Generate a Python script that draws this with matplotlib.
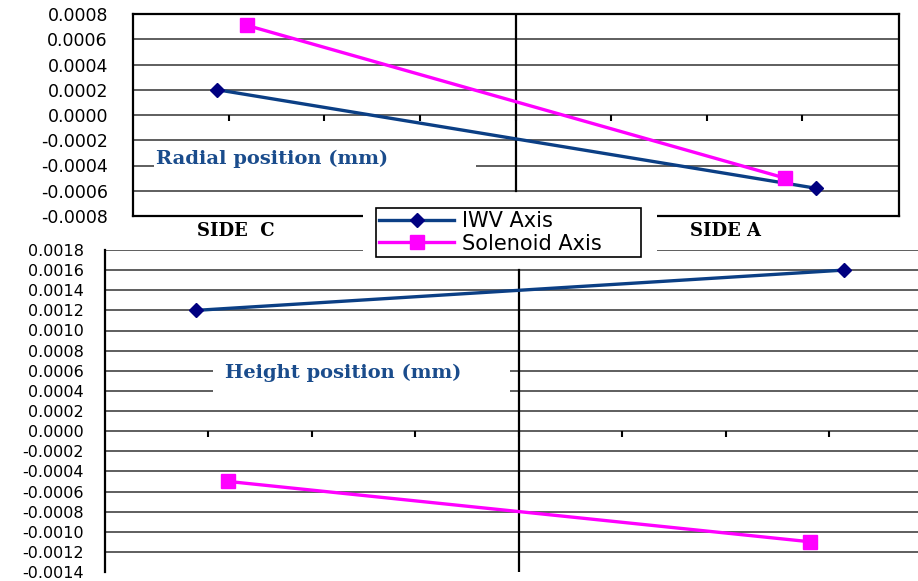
import numpy as np
import matplotlib
matplotlib.use("Agg")
import matplotlib.pyplot as plt
from matplotlib.patches import Rectangle

plt.rcParams['axes.unicode_minus'] = False
plt.rcParams['font.family'] = 'DejaVu Sans'

# dados
series = ['IWV Axis', 'Solenoid Axis']
sides = ['SIDE  C', 'SIDE A']
x_iwv = [-0.12, 6.14]
x_sol = [0.19, 5.82]
radial_iwv = [0.0002, -0.00058]
radial_sol = [0.00071, -0.0005]
height_iwv = [0.0012, 0.0016]
height_sol = [-0.0005, -0.0011]
radial_ticks = np.round(np.arange(-0.0008, 0.00081, 0.0002), 4) + 0.0
height_ticks = np.round(np.arange(-0.0014, 0.00181, 0.0002), 4) + 0.0
cat_ticks = [0, 1, 2, 3, 4, 5, 6]

blue = '#0b3f85'
navy = '#000080'
magenta = '#ff00ff'
txt_blue = '#1a4c8c'

fig = plt.figure(figsize=(9.18, 5.81), dpi=100)
W, H = 918, 581

def px_axes(l, t, r, b):
    return fig.add_axes([l / W, 1 - b / H, (r - l) / W, (b - t) / H])

def fmt(v):
    s = f'{abs(v):.4f}'
    return '-' + s if v < -1e-12 else s

# painel de cima (radial)
ax1 = px_axes(133, 14, 899, 216)
ax1.set_xlim(-1, 7.01)
ax1.set_ylim(-0.0008, 0.0008)
ax1.set_yticks(radial_ticks)
ax1.set_yticklabels([fmt(v) for v in radial_ticks], fontsize=12.5)
ax1.tick_params(axis='y', length=0, pad=18)
ax1.set_xticks([])
for y in radial_ticks:
    ax1.axhline(y, color='#333333', lw=1.1, zorder=1)
for s in ax1.spines.values():
    s.set_linewidth(1.6)
ax1.axvline(3, ymin=0.125, ymax=1, color='black', lw=1.6, zorder=1)
ax1.plot(cat_ticks, np.zeros(len(cat_ticks)), ls='none', marker=3, ms=4, mew=1.5, color='black', zorder=1)
ax1.add_patch(Rectangle((-0.784, -0.00049), 3.37, 0.00023, facecolor='white', edgecolor='none', zorder=2))
ax1.text(-0.76, -0.00035, 'Radial position (mm)', family='DejaVu Serif', weight='bold',
         fontsize=14, color=txt_blue, va='center', ha='left', zorder=3)
l1, = ax1.plot(x_iwv, radial_iwv, color=blue, lw=2.4, marker='D', ms=7, mfc=navy, mec=navy, zorder=4, clip_on=False)
l2, = ax1.plot(x_sol, radial_sol, color=magenta, lw=2.4, marker='s', ms=10, mfc=magenta, mec=magenta, zorder=4, clip_on=False)

# painel de baixo (altura)
ax2 = px_axes(105, 250, 918, 572)
ax2.set_xlim(-1, 6.86)
ax2.set_ylim(-0.0014, 0.0018)
ax2.set_yticks(height_ticks)
ax2.set_yticklabels([fmt(v) for v in height_ticks], fontsize=11.5)
ax2.tick_params(axis='y', length=0, pad=15)
ax2.set_xticks([])
for y in height_ticks[1:]:
    ax2.axhline(y, color='#333333', lw=1.1, zorder=1)
for k in ['top', 'right', 'bottom']:
    ax2.spines[k].set_visible(False)
ax2.spines['left'].set_linewidth(1.6)
ax2.axvline(3, ymin=0, ymax=0.9375, color='black', lw=1.6, zorder=1)
ax2.plot(cat_ticks, np.zeros(len(cat_ticks)), ls='none', marker=3, ms=4, mew=1.5, color='black', zorder=1)
ax2.add_patch(Rectangle((0.04, 0.0003), 2.88, 0.0004, facecolor='white', edgecolor='none', zorder=2))
ax2.text(0.16, 0.00058, 'Height position (mm)', family='DejaVu Serif', weight='bold',
         fontsize=14, color=txt_blue, va='center', ha='left', zorder=3)
ax2.plot(x_iwv, height_iwv, color=blue, lw=2.4, marker='D', ms=7, mfc=navy, mec=navy, zorder=4, clip_on=False)
ax2.plot(x_sol, height_sol, color=magenta, lw=2.4, marker='s', ms=10, mfc=magenta, mec=magenta, zorder=4, clip_on=False)

# faixa branca atras da legenda
fig.patches.append(Rectangle((363 / W, 1 - 262 / H), (657 - 363) / W, 62 / H,
                             transform=fig.transFigure, facecolor='white', edgecolor='none', zorder=4))

fig.text(236 / W, 1 - 231 / H, sides[0], family='DejaVu Serif', weight='bold', fontsize=13,
         ha='center', va='center')
fig.text(725 / W, 1 - 231 / H, sides[1], family='DejaVu Serif', weight='bold', fontsize=13,
         ha='center', va='center')

leg = fig.legend([l1, l2], series, loc='center', mode='expand',
                 bbox_to_anchor=(376 / W, 1 - 258 / H, 265 / W, 51 / H),
                 fontsize=15, numpoints=1, handlelength=3.6, handletextpad=0.4,
                 labelspacing=0.1, borderpad=0.15, borderaxespad=0, fancybox=False,
                 framealpha=1, edgecolor='black')
leg.get_frame().set_linewidth(1.2)
leg.set_zorder(5)

fig.savefig('out.png', dpi=100)
